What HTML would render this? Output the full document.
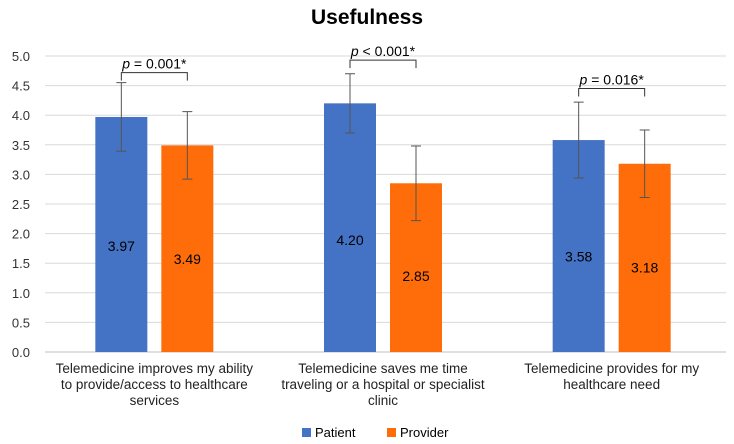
<!DOCTYPE html>
<html><head><meta charset="utf-8"><style>
body{margin:0;background:#fff;}
svg{display:block;font-family:"Liberation Sans",Arial,sans-serif;}
</style></head><body>
<svg id="chart" width="734" height="444">
<text x="367" y="24" text-anchor="middle" font-size="21" font-weight="bold">Usefulness</text>
<g id="grid"></g><g id="bars"></g><g id="labels"></g>
<g>
<rect x="302" y="428" width="9" height="9" fill="#4472C4"/>
<text x="315" y="437" font-size="13">Patient</text>
<rect x="387" y="428" width="9" height="9" fill="#FF6D0A"/>
<text x="400" y="437" font-size="13">Provider</text>
</g>
</svg>
<script>
const categories=[["Telemedicine improves my ability","to provide/access to healthcare","services"],["Telemedicine saves me time","traveling or a hospital or specialist","clinic"],["Telemedicine provides for my","healthcare need"]];
const patient=[3.97,4.20,3.58];
const provider=[3.49,2.85,3.18];
const patientErr=[0.58,0.50,0.64];
const providerErr=[0.57,0.63,0.57];
const pLabels=["p = 0.001*","p < 0.001*","p = 0.016*"];
const bracketLevel=[4.72,4.93,4.45];
const yTicks=[0,0.5,1,1.5,2,2.5,3,3.5,4,4.5,5];
const NS="http://www.w3.org/2000/svg";
const x0=40,x1=726,yB=352,yT=56,gx0=45;
const y=v=>yB-(v/5)*(yB-yT);
const gw=(x1-x0)/3;
function mk(t,a,p){const e=document.createElementNS(NS,t);for(const k in a)e.setAttribute(k,a[k]);p.appendChild(e);return e;}
const grid=document.getElementById('grid'),bars=document.getElementById('bars'),labs=document.getElementById('labels');
yTicks.forEach(v=>{
 const l=mk('line',{x1:gx0,x2:x1,y1:y(v),y2:y(v),stroke:v===0?'#bfbfbf':'#d9d9d9','stroke-width':1},grid);
 
 
 const t=mk('text',{x:30,y:y(v)+5,'text-anchor':'end','font-size':13,fill:'#333'},grid);
 t.textContent=v.toFixed(1);
 
 
});
const bw=52;
categories.forEach((c,i)=>{
 const cx=x0+gw*(i+0.5);
 const series=[[patient[i],patientErr[i],'#4472C4','patient'],[provider[i],providerErr[i],'#FF6D0A','provider']];
 const xs=[cx-7-bw,cx+7];
 series.forEach((s,j)=>{
  const bx=xs[j],mid=bx+bw/2;
  const r=mk('rect',{x:bx,y:y(s[0]),width:bw,height:yB-y(s[0]),fill:s[2]},bars);
  
  
  const e=mk('path',{d:`M${mid},${y(s[0]+s[1])}V${y(s[0]-s[1])}M${mid-5},${y(s[0]+s[1])}h10M${mid-5},${y(s[0]-s[1])}h10`,stroke:'#555','stroke-width':1,fill:'none'},bars);
  
  
  const t=mk('text',{x:mid,y:y(s[0]*0.45)+5,'text-anchor':'middle','font-size':14},labs);
  t.textContent=s[0].toFixed(2);
  
  
 });
 const m1=xs[0]+bw/2,m2=xs[1]+bw/2,by=y(bracketLevel[i]);
 const b=mk('path',{d:`M${m1},${by+8}V${by}H${m2}V${by+8}`,stroke:'#333','stroke-width':1,fill:'none'},labs);
 
 
 const pt=mk('text',{x:(m1+m2)/2,y:by-4,'text-anchor':'middle','font-size':14},labs);
 pt.innerHTML='<tspan font-style="italic">'+pLabels[i].slice(0,1)+'</tspan>'+pLabels[i].slice(1);
 
 
 c.forEach((line,k)=>{
  const t=mk('text',{x:cx,y:373+k*16,'text-anchor':'middle','font-size':13.5,fill:'#222'},labs);
  t.textContent=line;
  
  
 });
});
</script>
</body></html>
